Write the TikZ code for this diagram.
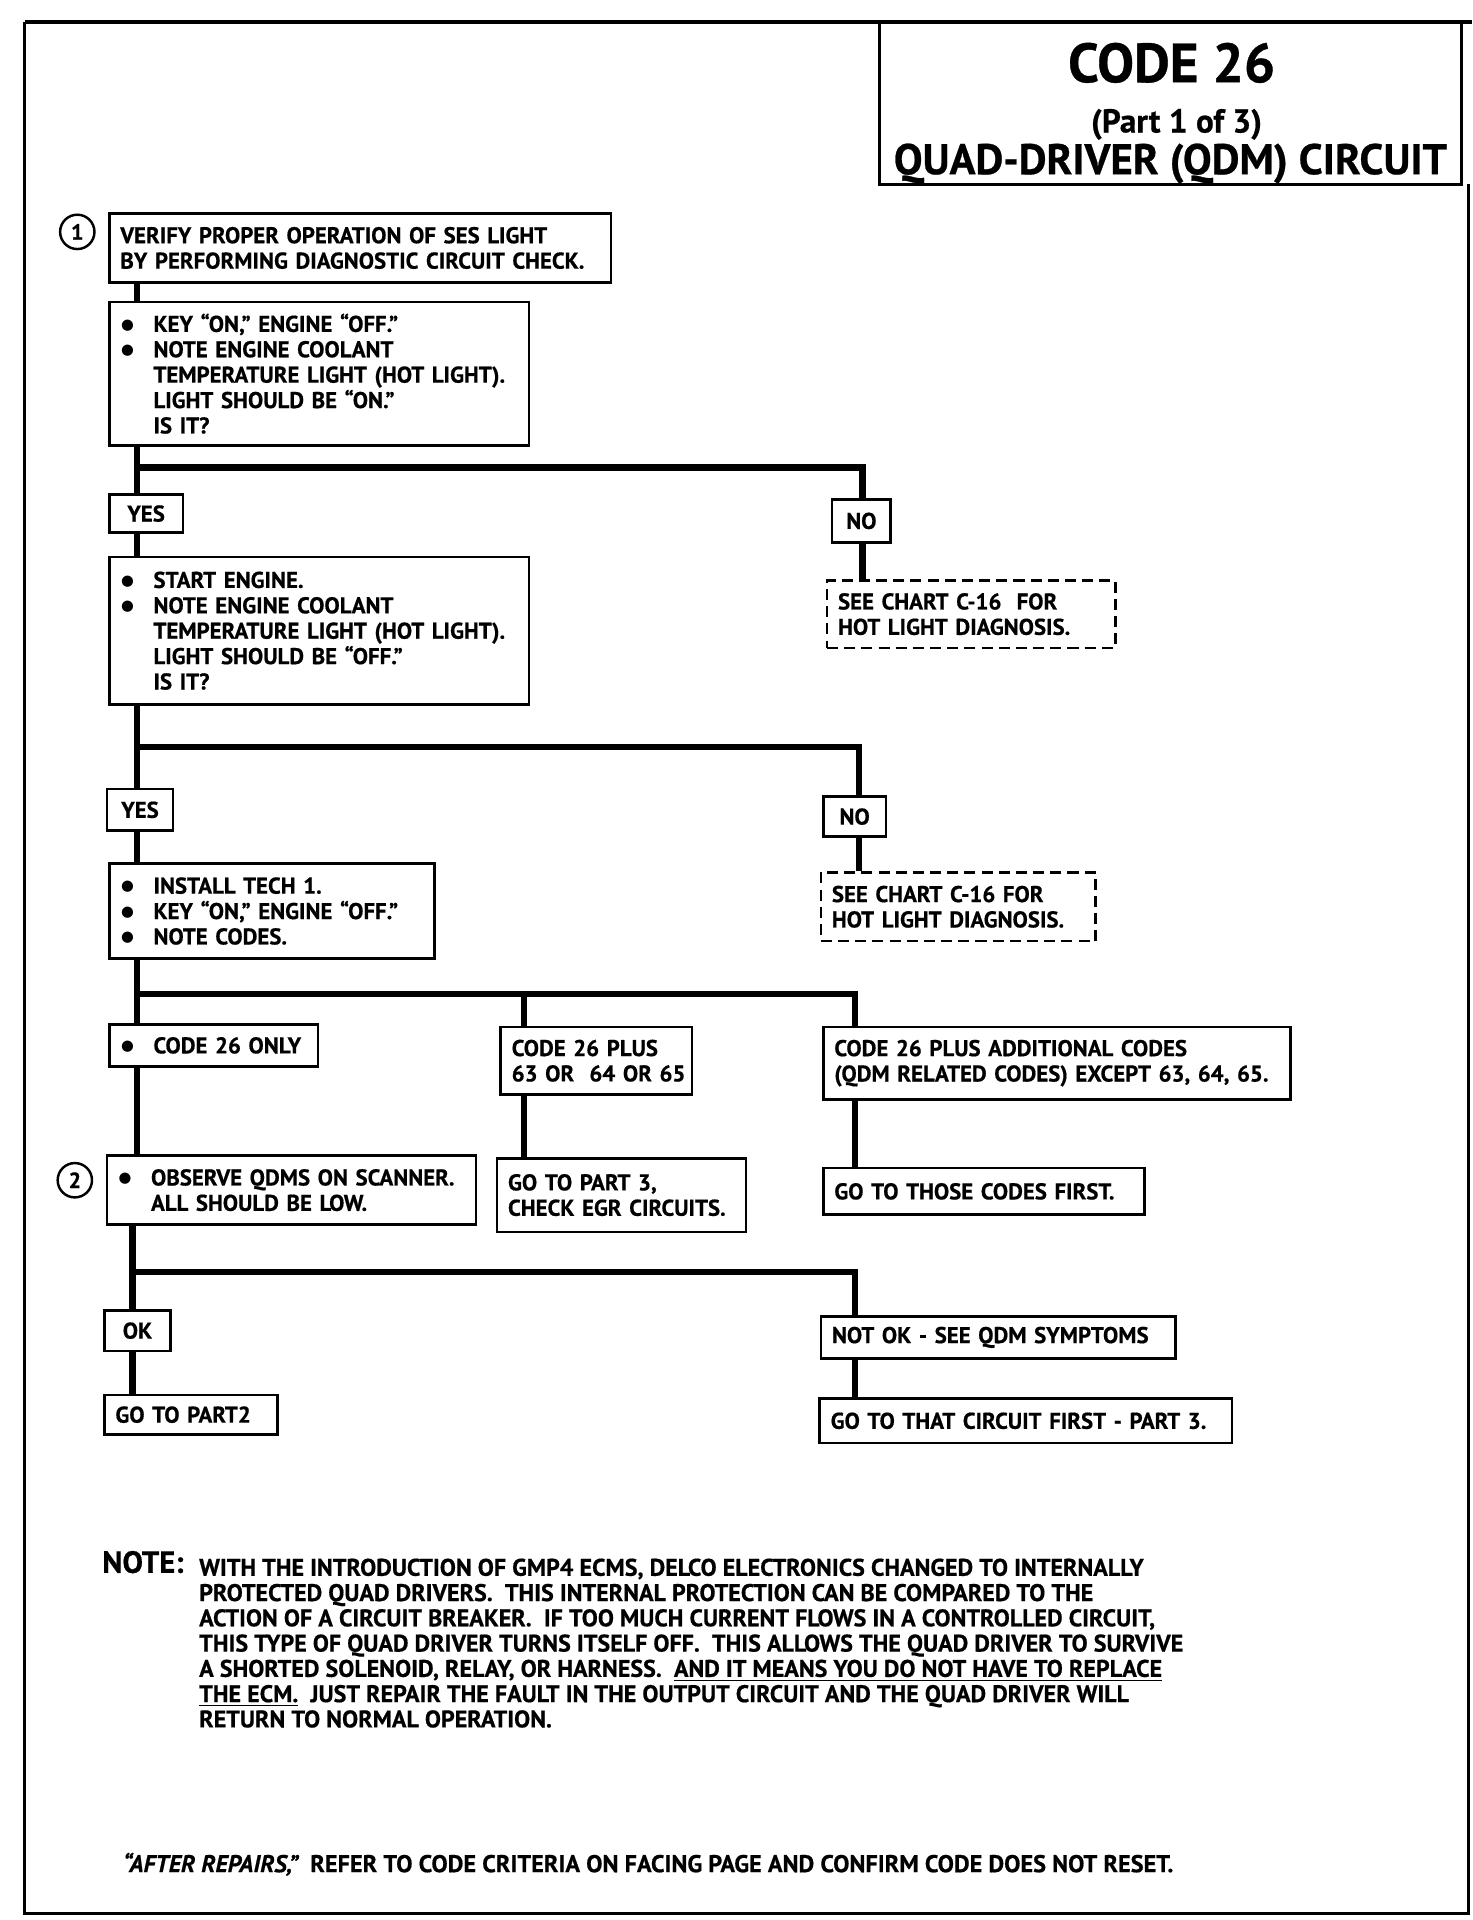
\documentclass[tikz,border=0pt]{standalone}
\usepackage{fontspec}
\setmainfont{PT Sans}[BoldFeatures={FakeBold=0.6}, BoldItalicFeatures={FakeBold=0.6}]
\newfontfamily\dejavu{DejaVu Sans}
\usetikzlibrary{calc}
\newcommand\bxfont{\bfseries\fontsize{9.3}{10.35}\selectfont}
\newcommand\bul{\makebox[13.5pt][l]{\hspace{0.3pt}\raisebox{1.1pt}{\dejavu\fontsize{6}{7}\selectfont ●}}}
\newcommand\ind{\hspace*{13.5pt}}
\newcommand\fbx[7]{%
  \pgfmathsetmacro\bw{(#5-#3)*0.5}%
  \pgfmathsetmacro\bh{(#6-#4)*0.5}%
  \pgfmathsetmacro\tw{(#5-#3)*0.5-9}%
  \node[#1, anchor=north west, minimum width=\bw pt, minimum height=\bh pt, text width=\tw pt] (#2) at (#3,#4) {#7};}
\tikzset{
  box/.style={draw, line width=1.1pt, rectangle, inner xsep=4.5pt, inner ysep=0pt, align=left, font=\bxfont},
  cbox/.style={box, align=center},
  dbox/.style={box, dash pattern=on 4.5pt off 2.5pt},
  wire/.style={line width=2.5pt, line join=miter},
  num/.style={draw, circle, line width=1pt, minimum size=14pt, inner sep=0pt, font=\bfseries\fontsize{9}{10}\selectfont},
  border/.style={line width=1.3pt},
}
\begin{document}
\begin{tikzpicture}[x=0.5pt, y=-0.5pt]
\useasboundingbox (0,0) rectangle (1200,1565);
% page border
\draw[border] (20,18) -- (1200,18);
\draw[border] (1197,150) -- (1197,1560) -- (20,1560) -- (20,18);
% title
\fbx{box, line width=1.2pt}{title}{716}{16}{1190}{149}{}
\node[font=\bfseries\fontsize{22.5}{26}\selectfont, anchor=base] (t1) at (955,67) {CODE 26};
\node[font=\bfseries\fontsize{13.5}{16}\selectfont, anchor=base] (t2) at (959,108) {(Part 1 of 3)};
\node[font=\bfseries\fontsize{17.5}{20}\selectfont, anchor=base] (t3) at (954,142) {QUAD-DRIVER (QDM) CIRCUIT};
% step numbers
\node[num] (c1) at (63,189) {1};
\node[num] (c2) at (61,962) {2};
% boxes
\fbx{box}{box1}{88}{173}{497}{229}{\mbox{VERIFY PROPER OPERATION OF SES LIGHT}\\\mbox{BY PERFORMING DIAGNOSTIC CIRCUIT CHECK.}}
\fbx{box}{box2}{88}{245}{430}{362}{\bul KEY “ON,” ENGINE “OFF.”\\\bul NOTE ENGINE COOLANT\\\ind\mbox{TEMPERATURE LIGHT (HOT LIGHT).}\\\ind LIGHT SHOULD BE “ON.”\\\ind IS IT?}
\fbx{cbox}{yes1}{88}{402}{148}{433}{YES}
\fbx{cbox}{no1}{677}{406}{725}{441}{NO}
\fbx{dbox}{d1}{673}{472}{908}{527}{SEE CHART C-16\ \ FOR\\HOT LIGHT DIAGNOSIS.}
\fbx{box}{box3}{88}{453}{430}{573}{\bul START ENGINE.\\\bul NOTE ENGINE COOLANT\\\ind\mbox{TEMPERATURE LIGHT (HOT LIGHT).}\\\ind LIGHT SHOULD BE “OFF.”\\\ind IS IT?}
\fbx{cbox}{yes2}{86}{642}{140}{676}{YES}
\fbx{cbox}{no2}{670}{648}{721}{681}{NO}
\fbx{dbox}{d2}{668}{710}{892}{766}{SEE CHART C-16 FOR\\HOT LIGHT DIAGNOSIS.}
\fbx{box}{box4}{88}{703}{353}{780}{\bul INSTALL TECH 1.\\\bul\mbox{KEY “ON,” ENGINE “OFF.”}\\\bul NOTE CODES.}
\fbx{box}{only}{88}{834}{258}{868}{\bul\mbox{CODE 26 ONLY}}
\fbx{box}{plus}{407}{836}{563}{891}{CODE 26 PLUS\\\mbox{63 OR\ \ 64 OR 65}}
\fbx{box}{addl}{670}{836}{1051}{895}{\mbox{CODE 26 PLUS ADDITIONAL CODES}\\\mbox{(QDM RELATED CODES) EXCEPT 63, 64, 65.}}
\fbx{box}{obs}{86}{941}{387}{997}{\bul\mbox{OBSERVE QDMS ON SCANNER.}\\\ind ALL SHOULD BE LOW.}
\fbx{box}{gp3}{404}{943}{607}{1003}{GO TO PART 3,\\\mbox{CHECK EGR CIRCUITS.}}
\fbx{box}{gth}{670}{951}{932}{989}{\mbox{GO TO THOSE CODES FIRST.}}
\fbx{cbox}{ok}{84}{1067}{138}{1100}{OK}
\fbx{box}{gp2}{84}{1136}{225}{1168}{\mbox{GO TO PART2}}
\fbx{box}{nok}{668}{1072}{957}{1106}{\mbox{NOT OK - SEE QDM SYMPTOMS}}
\fbx{box}{gthat}{667}{1139}{1003}{1175}{\mbox{GO TO THAT CIRCUIT FIRST - PART 3.}}
% junctions
\coordinate (j1) at (112,381); \coordinate (j1r) at (703,381);
\coordinate (j2) at (112,609); \coordinate (j2r) at (700,609);
\coordinate (j3) at (112,810); \coordinate (j3m) at (427,810); \coordinate (j3r) at (697,810);
\coordinate (j4) at (108,1037); \coordinate (j4r) at (697,1037);
% connectors
\draw[wire] (box1.south -| j1) -- (box2.north -| j1);
\draw[wire] (box2.south -| j1) -- (yes1.north -| j1);
\draw[wire] (j1) -- (j1r) -- (no1.north -| j1r);
\draw[wire] (no1.south -| j1r) -- (d1.north -| j1r);
\draw[wire] (yes1.south -| j1) -- (box3.north -| j1);
\draw[wire] (box3.south -| j2) -- (yes2.north -| j2);
\draw[wire] (j2) -- (j2r) -- (no2.north -| j2r);
\draw[wire] (no2.south -| j2r) -- (d2.north -| j2r);
\draw[wire] (yes2.south -| j2) -- (box4.north -| j2);
\draw[wire] (box4.south -| j3) -- (only.north -| j3);
\draw[wire] (j3) -- (j3r) -- (addl.north -| j3r);
\draw[wire] (j3m) -- (plus.north -| j3m);
\draw[wire] (only.south -| j3) -- (obs.north -| j3);
\draw[wire] (plus.south -| j3m) -- (gp3.north -| j3m);
\draw[wire] (addl.south -| j3r) -- (gth.north -| j3r);
\draw[wire] (obs.south -| j4) -- (ok.north -| j4);
\draw[wire] (j4) -- (j4r) -- (nok.north -| j4r);
\draw[wire] (ok.south -| j4) -- (gp2.north -| j4);
\draw[wire] (nok.south -| j4r) -- (gthat.north -| j4r);
% note
\node[anchor=base west, inner sep=0pt, font=\bfseries\fontsize{12.5}{14}\selectfont] (notehead) at (83,1282) {NOTE:};
\node[anchor=north west, inner sep=0pt, align=left, font=\bfseries\fontsize{9.8}{10.3}\selectfont] (notebody) at (162,1270) {WITH THE INTRODUCTION OF GMP4 ECMS, DELCO ELECTRONICS CHANGED TO INTERNALLY\\PROTECTED QUAD DRIVERS.\ \ THIS INTERNAL PROTECTION CAN BE COMPARED TO THE\\ACTION OF A CIRCUIT BREAKER.\ \ IF TOO MUCH CURRENT FLOWS IN A CONTROLLED CIRCUIT,\\THIS TYPE OF QUAD DRIVER TURNS ITSELF OFF.\ \ THIS ALLOWS THE QUAD DRIVER TO SURVIVE\\A SHORTED SOLENOID, RELAY, OR HARNESS.\ \ \underline{AND IT MEANS YOU DO NOT HAVE TO REPLACE}\\\underline{THE ECM.}\ \ JUST REPAIR THE FAULT IN THE OUTPUT CIRCUIT AND THE QUAD DRIVER WILL\\RETURN TO NORMAL OPERATION.};
% footer
\node[anchor=base west, inner sep=0pt, font=\bfseries\fontsize{9.9}{10.3}\selectfont] (footer) at (100,1526) {{\itshape “AFTER REPAIRS,”}\ \ REFER TO CODE CRITERIA ON FACING PAGE AND CONFIRM CODE DOES NOT RESET.};
\end{tikzpicture}
\end{document}
